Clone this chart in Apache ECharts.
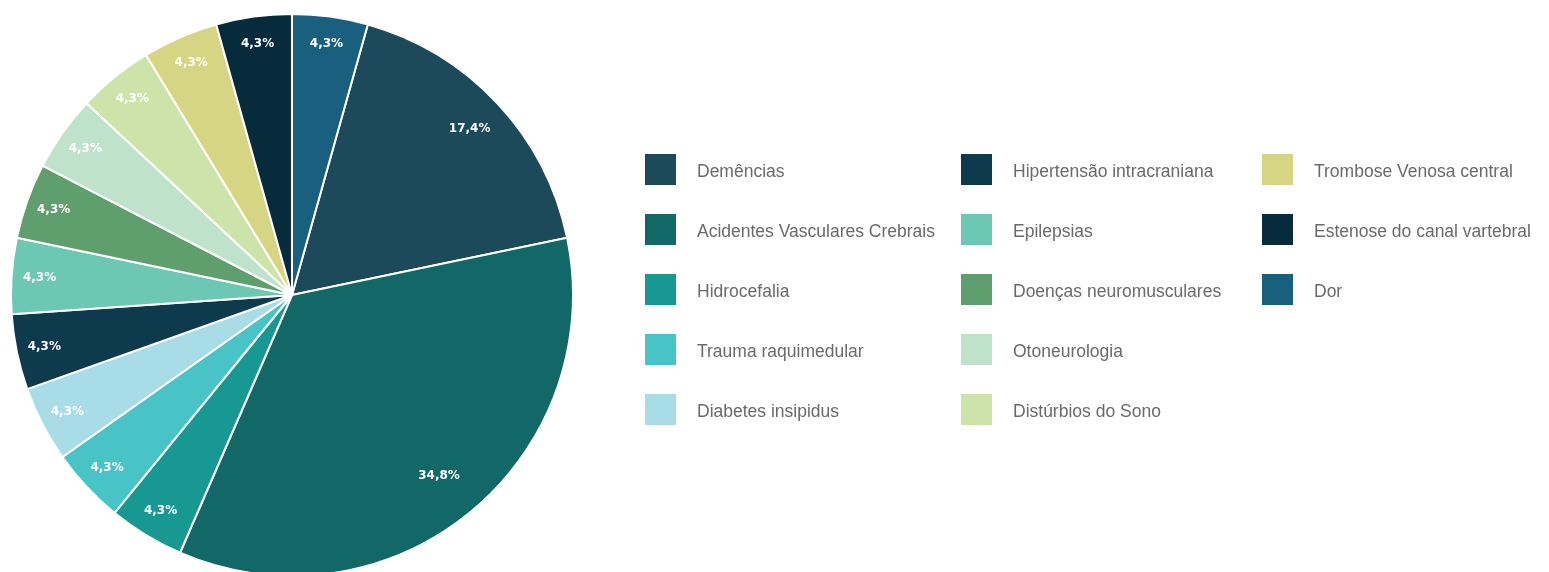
<!DOCTYPE html>
<html>
<head>
<meta charset="utf-8">
<script src="https://cdn.jsdelivr.net/npm/echarts@6/dist/echarts.min.js"></script>
<style>
  html, body { margin: 0; padding: 0; background: #fff; }
  #chart { width: 1549px; height: 572px; }
</style>
</head>
<body>
<div id="chart"></div>
<script>
// categorias na ordem das fatias (começa depois de "Dor", sentido horário)
var categorias = ['Demências', 'Acidentes Vasculares Crebrais', 'Hidrocefalia', 'Trauma raquimedular',
    'Diabetes insipidus', 'Hipertensão intracraniana', 'Epilepsias', 'Doenças neuromusculares',
    'Otoneurologia', 'Distúrbios do Sono', 'Trombose Venosa central', 'Estenose do canal vartebral', 'Dor'];
var casos = [4, 8, 1, 1, 1, 1, 1, 1, 1, 1, 1, 1, 1];
var cores = ['#1d4a5b', '#116866', '#189893', '#48c3c6', '#a8dde8', '#0e3a4e', '#6cc7b3',
    '#5f9f6e', '#bfe2cb', '#cce3a9', '#d6d583', '#062c3c', '#19607f'];

var total = casos.reduce(function (a, b) { return a + b; }, 0);
var dados = [];
for (var i = 0; i < categorias.length; i++)
    dados.push({ name: categorias[i], value: casos[i], itemStyle: { color: cores[i] } });

var centro = [292, 295];
// rótulos das fatias grandes ficam um pouco mais para dentro
var recuo = { 0: 10, 1: 20 };

// legenda em 3 colunas de 5
var colunas = [categorias.slice(0, 5), categorias.slice(5, 10), categorias.slice(10)];
var colLeft = [645, 961, 1262];

var legendas = [];
for (var c = 0; c < colunas.length; c++) {
    legendas.push({
        orient: 'vertical',
        left: colLeft[c],
        top: 154,
        padding: 0,
        itemWidth: 31,
        itemHeight: 31,
        itemGap: 29,
        icon: 'rect',
        selectedMode: false,
        itemStyle: { borderWidth: 0 },
        data: colunas[c],
        formatter: '{t|{name}}',
        textStyle: {
            rich: {
                t: { fontFamily: 'Liberation Sans', fontSize: 17.5, color: '#6a6a6a', padding: [6, 0, 0, 16] }
            }
        }
    });
}

var chart = echarts.init(document.getElementById('chart'));
var startAng = 90 - 360 * casos[casos.length - 1] / total;

chart.setOption({
    animation: false,
    legend: legendas,
    series: [
        {
            name: 'casos',
            type: 'pie',
            center: centro,
            radius: [0, 281],
            startAngle: startAng,
            clockwise: true,
            itemStyle: { borderColor: '#ffffff', borderWidth: 2 },
            label: { show: false },
            labelLine: { show: false },
            emphasis: { disabled: true },
            data: dados
        },
        {
            // anel invisível só para posicionar os rótulos perto da borda
            name: 'rotulos',
            type: 'pie',
            center: centro,
            radius: [219, 281],
            startAngle: startAng,
            clockwise: true,
            silent: true,
            avoidLabelOverlap: false,
            itemStyle: { color: 'rgba(0,0,0,0)', borderWidth: 0 },
            label: {
                show: true,
                position: 'inside',
                color: '#ffffff',
                fontFamily: 'DejaVu Sans',
                fontWeight: 'bold',
                fontSize: 12,
                formatter: function (p) {
                    return (p.value / total * 100).toFixed(1).replace('.', ',') + '%';
                }
            },
            labelLayout: function (p) {
                var d = recuo[p.dataIndex];
                if (!d) return {};
                var r = p.labelRect;
                var vx = r.x + r.width / 2 - centro[0];
                var vy = r.y + r.height / 2 - centro[1];
                var n = Math.sqrt(vx * vx + vy * vy);
                return { dx: -vx / n * d, dy: -vy / n * d };
            },
            labelLine: { show: false },
            emphasis: { disabled: true },
            data: casos.map(function (v, k) { return { name: categorias[k], value: v }; })
        }
    ]
});
</script>
</body>
</html>
